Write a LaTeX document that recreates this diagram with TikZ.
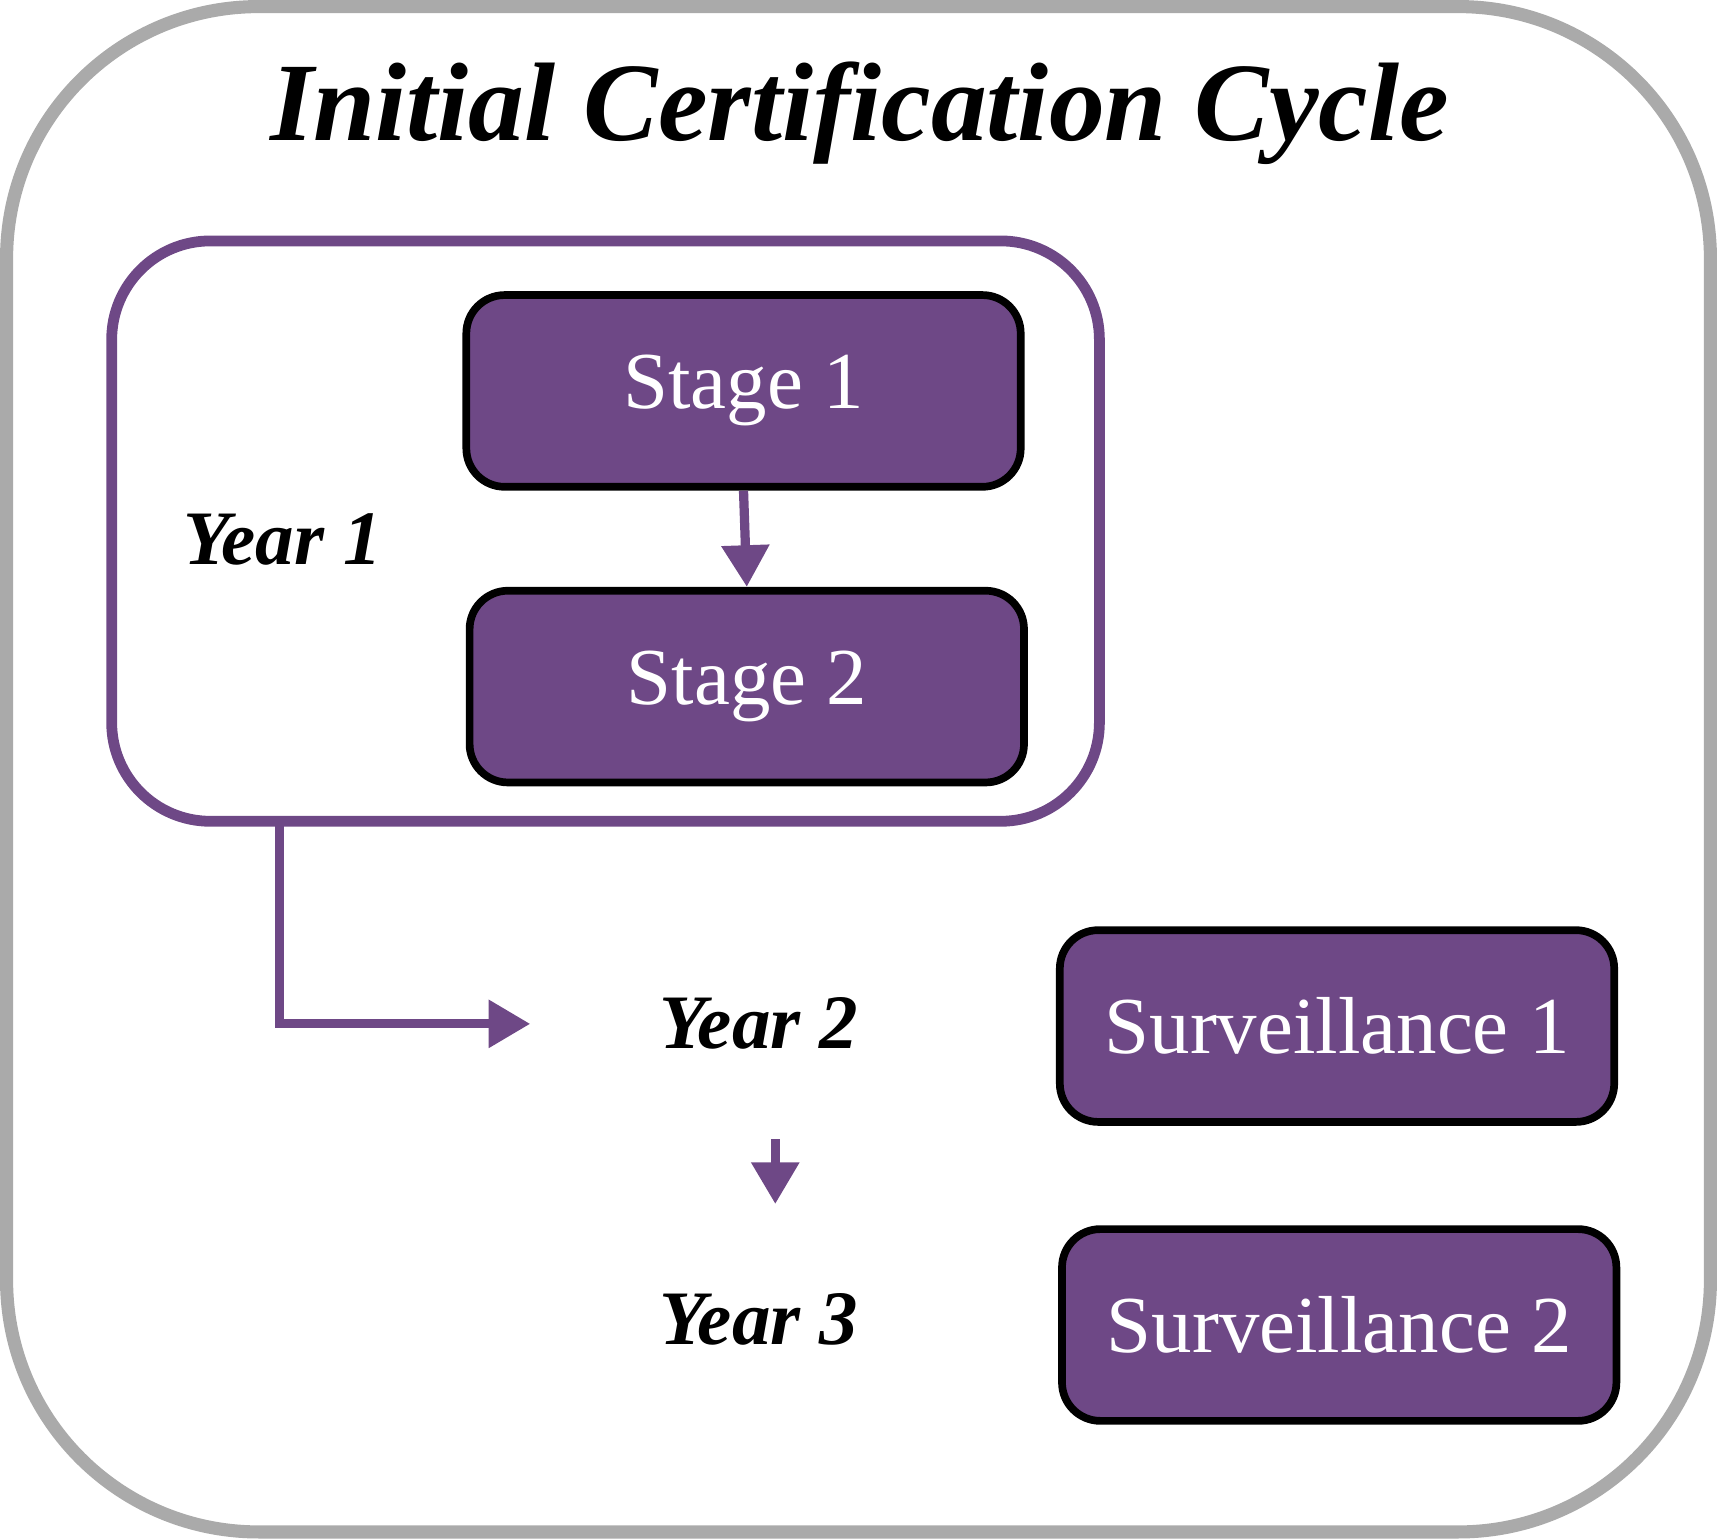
\documentclass[tikz,border=0pt]{standalone}
\usepackage{fontspec}
\setmainfont{Liberation Serif}
\usetikzlibrary{arrows.meta}
\definecolor{certpurple}{HTML}{6E4886}
\definecolor{framegray}{HTML}{AAAAAA}
\tikzset{
  stage/.style={draw=black, line width=2pt, fill=certpurple, rounded corners=0.35cm,
    minimum width=5.06cm, minimum height=1.75cm, text=white, font=\fontsize{21}{24}\selectfont},
  yearlabel/.style={font=\fontsize{20}{24}\selectfont\bfseries\itshape},
  flow/.style={draw=certpurple, line width=2.4pt, -{Triangle[width=0.42cm,length=0.38cm]}}
}
\begin{document}
\begin{tikzpicture}[x=0.01cm,y=-0.01cm]
% fix the page size
\useasboundingbox (0,0) rectangle (1568,1405);

% outer frame and title
\draw[framegray, line width=3.4pt, rounded corners=2.3cm] (6,6) rectangle (1562,1399);
\node[font=\fontsize{29}{34}\selectfont\bfseries\itshape] (title) at (785,103) {Initial Certification Cycle};

% year one group
\draw[certpurple, line width=2.8pt, rounded corners=0.9cm] (102,220) rectangle (1004,750);
\coordinate (groupbottom) at (255,750);
\node[yearlabel] (year1) at (258,493) {Year 1};
\node[stage] (stage1) at (679,357) {Stage 1};
\node[stage] (stage2) at (682,627) {Stage 2};

% later years
\node[yearlabel] (year2) at (693,935) {Year 2};
\node[yearlabel] (year3) at (693,1205) {Year 3};
\node[stage] (surv1) at (1221,937) {Surveillance 1};
\node[stage] (surv2) at (1223,1210) {Surveillance 2};

% arrows
\draw[flow] (stage1.south) -- (stage2.north);
\draw[flow, shorten >=30] (groupbottom) |- (year2.west);
\draw[flow, shorten <=30, shorten >=30] (708,935) -- (708,1205);
\end{tikzpicture}
\end{document}
